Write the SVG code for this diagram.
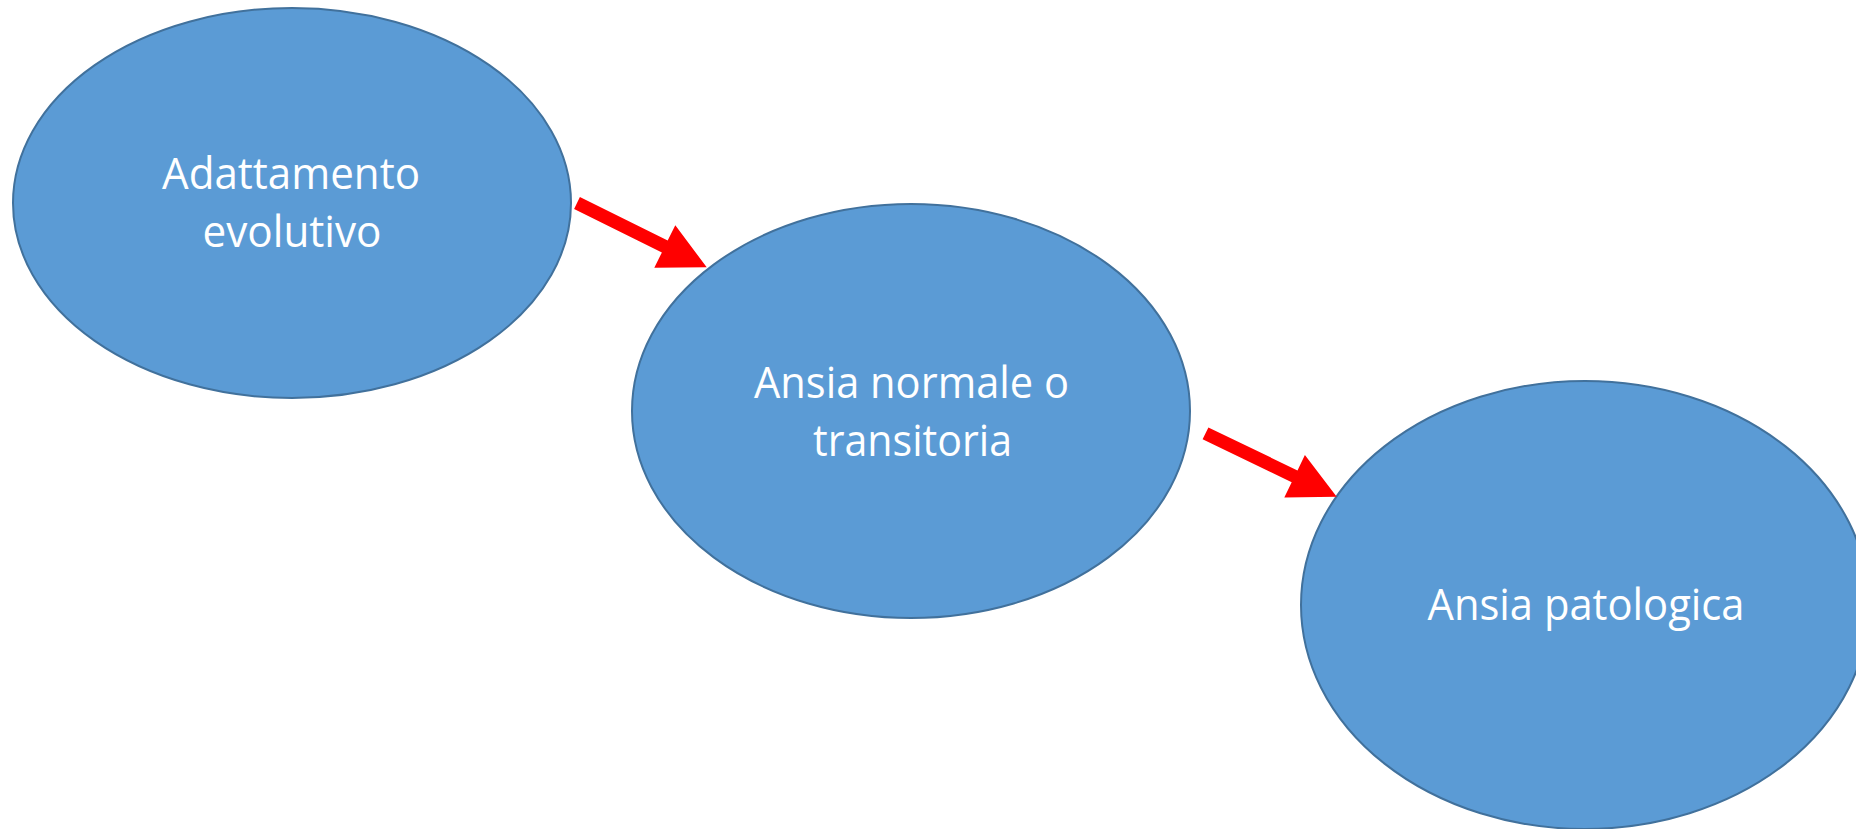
<svg xmlns="http://www.w3.org/2000/svg" width="1856" height="829" viewBox="0 0 1856 829">
<style>
.node{fill:#5B9BD5;stroke:#41719C;stroke-width:2}
.lbl{fill:#FFFFFF;font-family:"Open Sans","Liberation Sans",sans-serif;font-size:44px;text-anchor:middle}
.arrow{fill:#FF0000;stroke:none}
</style>
<rect width="1856" height="829" fill="#FFFFFF"/>
<g id="node-adattamento">
<ellipse class="node" cx="292" cy="203" rx="279" ry="195"/>
<text class="lbl" x="291" y="189" textLength="258" lengthAdjust="spacingAndGlyphs">Adattamento</text>
<text class="lbl" x="292" y="247" textLength="179" lengthAdjust="spacingAndGlyphs">evolutivo</text>
</g>
<g id="node-ansia-normale">
<ellipse class="node" cx="911" cy="411" rx="279" ry="207"/>
<text class="lbl" x="911.5" y="398" textLength="315" lengthAdjust="spacingAndGlyphs">Ansia normale o</text>
<text class="lbl" x="912.5" y="456" textLength="199" lengthAdjust="spacingAndGlyphs">transitoria</text>
</g>
<g id="node-ansia-patologica">
<ellipse class="node" cx="1585" cy="605" rx="284" ry="224"/>
<text class="lbl" x="1586" y="620" textLength="317" lengthAdjust="spacingAndGlyphs">Ansia patologica</text>
</g>
<g id="connectors">
<polygon class="arrow" points="579.9,197.1 667.7,240.6 675.3,225.3 706.7,267.3 654.3,267.7 661.9,252.4 574.1,208.9"/>
<polygon class="arrow" points="1208.4,427.4 1297.5,470.4 1304.9,455.0 1336.7,496.7 1284.3,497.6 1291.7,482.2 1202.6,439.2"/>
</g>
</svg>
